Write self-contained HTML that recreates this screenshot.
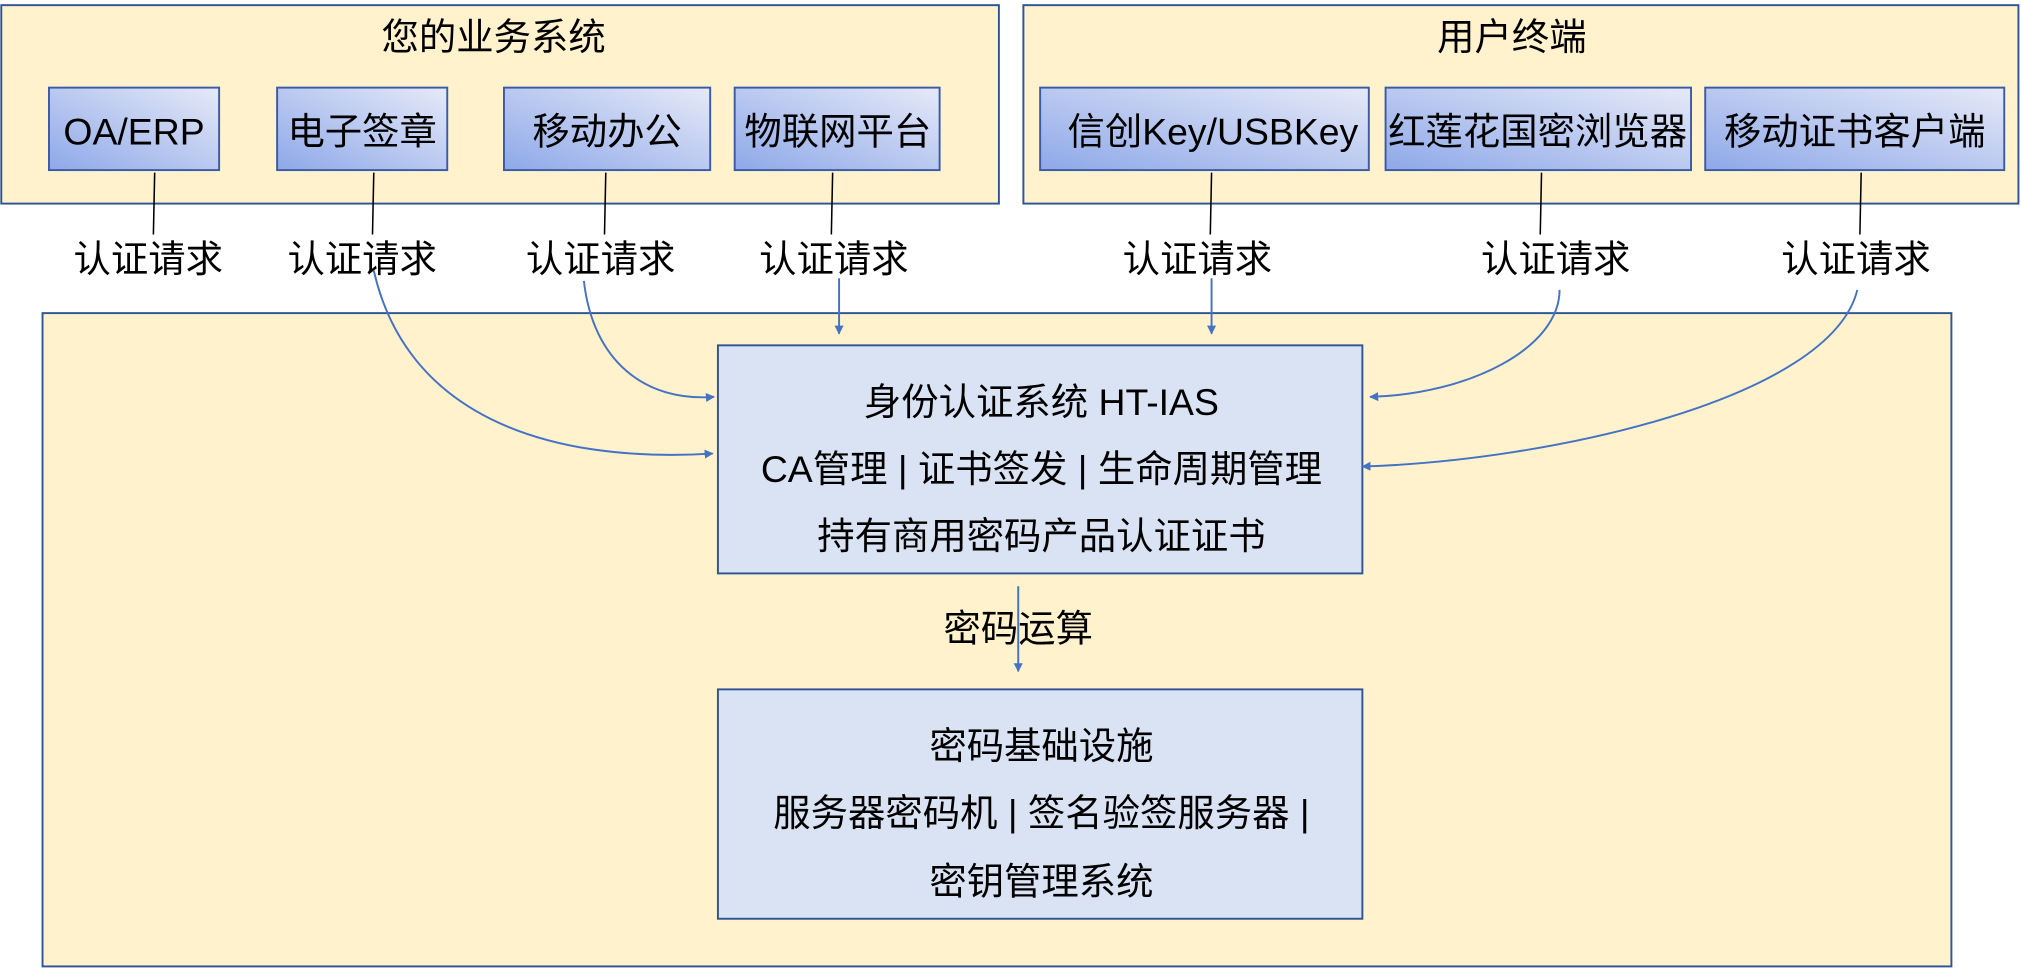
<!DOCTYPE html>
<html><head><meta charset="utf-8"><style>
html,body{margin:0;padding:0;background:#fff;}
svg{display:block;}
text{font-family:"Liberation Sans","Noto Sans CJK SC",sans-serif;fill:#000;}
</style></head><body>
<svg width="2021" height="969" viewBox="0 0 1568 752" preserveAspectRatio="none" xmlns="http://www.w3.org/2000/svg">
<defs>
<linearGradient id="g" x1="0" y1="1" x2="1" y2="0">
<stop offset="0" stop-color="#8ea8e8"/><stop offset="1" stop-color="#e6eaf8"/>
</linearGradient>
<marker id="a" viewBox="0 0 10 10" refX="9" refY="5" markerWidth="7" markerHeight="7" orient="auto" markerUnits="userSpaceOnUse">
<path d="M0,0 L10,5 L0,10 z" fill="#4472c4"/></marker>
</defs>
<rect x="1" y="4" width="774" height="154" fill="#fff2cc" stroke="#2f5597" stroke-width="1.5"/>
<rect x="794" y="4" width="772" height="154" fill="#fff2cc" stroke="#2f5597" stroke-width="1.5"/>
<rect x="33" y="243" width="1481" height="507" fill="#fff2cc" stroke="#2f5597" stroke-width="1.5"/>
<g font-size="29" text-anchor="middle">
<text x="383" y="39">您的业务系统</text>
<text x="1173" y="39">用户终端</text>
</g>
<g stroke="#3a5ba8" stroke-width="1.5" fill="url(#g)">
<rect x="38" y="68" width="132" height="64"/>
<rect x="215" y="68" width="132" height="64"/>
<rect x="391" y="68" width="160" height="64"/>
<rect x="570" y="68" width="159" height="64"/>
<rect x="807" y="68" width="255" height="64"/>
<rect x="1075" y="68" width="237" height="64"/>
<rect x="1323" y="68" width="232" height="64"/>
</g>
<g font-size="29" text-anchor="middle">
<text x="104" y="112">OA/ERP</text>
<text x="281" y="112">电子签章</text>
<text x="471" y="112">移动办公</text>
<text x="650" y="112">物联网平台</text>
<text x="941" y="112">信创Key/USBKey</text>
<text x="1193" y="112">红莲花国密浏览器</text>
<text x="1439" y="112">移动证书客户端</text>
</g>
<g stroke="#000" stroke-width="1.2">
<line x1="120" y1="134" x2="119" y2="182"/>
<line x1="290" y1="134" x2="289" y2="182"/>
<line x1="470" y1="134" x2="469" y2="182"/>
<line x1="646" y1="134" x2="645" y2="182"/>
<line x1="940" y1="134" x2="939" y2="182"/>
<line x1="1196" y1="134" x2="1195" y2="182"/>
<line x1="1444" y1="134" x2="1443" y2="182"/>
</g>
<g font-size="29" text-anchor="middle">
<text x="115" y="211">认证请求</text>
<text x="281" y="211">认证请求</text>
<text x="466" y="211">认证请求</text>
<text x="647" y="211">认证请求</text>
<text x="929" y="211">认证请求</text>
<text x="1207" y="211">认证请求</text>
<text x="1440" y="211">认证请求</text>
</g>
<rect x="557" y="268" width="500" height="177" fill="#dae3f4" stroke="#2f5597" stroke-width="1.5"/>
<rect x="557" y="535" width="500" height="178" fill="#dae3f4" stroke="#2f5597" stroke-width="1.5"/>
<g font-size="29" text-anchor="middle">
<text x="808" y="322">身份认证系统 HT-IAS</text>
<text x="808" y="374">CA管理 | 证书签发 | 生命周期管理</text>
<text x="808" y="426">持有商用密码产品认证证书</text>
<text x="790" y="498">密码运算</text>
<text x="808" y="589">密码基础设施</text>
<text x="808" y="641">服务器密码机 | 签名验签服务器 |</text>
<text x="808" y="694">密钥管理系统</text>
</g>
<g stroke="#4472c4" stroke-width="1.5" fill="none" marker-end="url(#a)">
<line x1="651" y1="216" x2="651" y2="259"/>
<line x1="940" y1="216" x2="940" y2="259"/>
<line x1="790" y1="455" x2="790" y2="521"/>
<path d="M290,210 C315,320 420,360 553,352"/>
<path d="M453,218 C460,280 500,312 554,308"/>
<path d="M1210,225 C1210,270 1140,306 1063,308"/>
<path d="M1441,225 C1420,310 1200,358 1057,362"/>
</g>
</svg>
</body></html>
